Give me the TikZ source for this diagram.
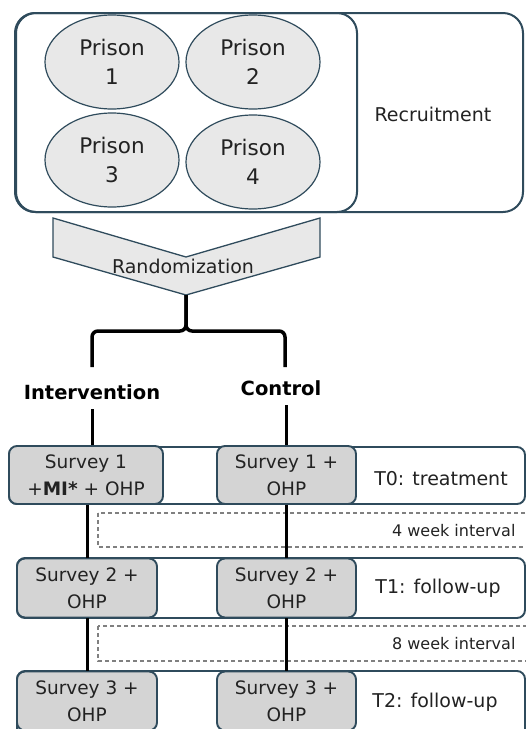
\documentclass[tikz,border=0pt]{standalone}
\usepackage{fontspec}
\setmainfont{DejaVu Sans}
\usetikzlibrary{shapes.geometric}
\definecolor{slate}{HTML}{2F4B5C}
\definecolor{ellgray}{HTML}{E8E8E8}
\definecolor{boxgray}{HTML}{D4D4D4}
\definecolor{inkgray}{HTML}{222222}

\begin{document}
\begin{tikzpicture}[x=1pt,y=-1pt, text=inkgray,
		prison/.style={ellipse, draw=slate, fill=ellgray, line width=1.2pt, minimum width=134pt, minimum height=94pt, inner sep=0pt, align=center, font=\fontsize{21.5}{29}\selectfont},
		survey/.style={rectangle, rounded corners=8pt, draw=slate, fill=boxgray, line width=1.9pt, minimum height=59pt, inner sep=0pt, align=center, font=\fontsize{18.5}{27}\selectfont},
		rowbox/.style={rounded corners=8pt, draw=slate, fill=white, line width=1.9pt},
		gapbox/.style={draw=gray, dash pattern=on 4pt off 3pt, line width=1.6pt},
		arm/.style={font=\bfseries\fontsize{19.5}{23}\selectfont, text=black},
		stage/.style={font=\fontsize{19}{23}\selectfont},
		gaptext/.style={font=\fontsize{16}{19}\selectfont, anchor=east},
		link/.style={line width=3pt, black}]
				\useasboundingbox (0,0) rectangle (526,729);
				% recruitment
				\draw[rowbox, rounded corners=20pt, line width=2pt] (15,13) rectangle (523,212);
				\draw[rowbox, rounded corners=20pt, line width=2pt, fill=none] (16,13) rectangle (357,212);
				\node[prison] (p1) at (112,62) {Prison\\1};
				\node[prison] (p2) at (253,62) {Prison\\2};
				\node[prison] (p3) at (112,160) {Prison\\3};
				\node[prison] (p4) at (253,162) {Prison\\4};
				\node[stage] (recruit) at (433,114) {Recruitment};
				% randomization
				\filldraw[fill=ellgray, draw=slate, line width=1.3pt] (53,218) -- (186,257) -- (320,218) -- (320,257) -- (186,295) -- (53,257) -- cycle;
				\node[stage] (rand) at (183,266) {Randomization};
				\coordinate (tip) at (186,295);
				\node[arm] (intv) at (92,392) {Intervention};
				\node[arm] (ctrl) at (281,388) {Control};
				\coordinate (bl) at (92,367);
				\coordinate (br) at (285,367);
				\draw[link, line width=3.5pt, rounded corners=6pt] (tip) -- ++(0,36) -| (bl);
				\draw[link, line width=3.5pt, rounded corners=6pt] (tip) -- ++(0,36) -| (br);
				% time points
				\draw[rowbox] (9,447) rectangle (525,504);
				\draw[rowbox] (17,558) rectangle (525,618);
				\draw[rowbox] (17,671) rectangle (525,745);
				\draw[gapbox] (98,513) rectangle (540,547);
				\draw[gapbox] (98,626) rectangle (540,661);
				\node[stage] (t0) at (441,479) {T0: treatment};
				\node[stage] (t1) at (438,588) {T1: follow-up};
				\node[stage] (t2) at (435,702) {T2: follow-up};
				\node[gaptext] (w4) at (519,531) {4 week interval};
				\node[gaptext] (w8) at (519,644) {8 week interval};
				\node[survey, minimum width=154pt, minimum height=58pt] (s1i) at (86,475) {Survey 1\\+\textbf{MI*} + OHP};
				\node[survey, minimum width=139pt, minimum height=58pt] (s1c) at (286.5,475) {Survey 1 +\\OHP};
				\node[survey, minimum width=140pt] (s2i) at (87,588) {Survey 2 +\\OHP};
				\node[survey, minimum width=139pt] (s2c) at (286.5,588) {Survey 2 +\\OHP};
				\node[survey, minimum width=140pt] (s3i) at (87,701) {Survey 3 +\\OHP};
				\node[survey, minimum width=139pt] (s3c) at (286.5,701) {Survey 3 +\\OHP};
				\draw[link] ([yshift=-6pt]intv.south) -- (intv.south |- s1i.north);
				\draw[link] ([yshift=-6pt]ctrl.south -| s1c) -- (s1c.north);
				\draw[link] (s1i.south -| s2i) -- (s2i.north);
				\draw[link] (s1c.south) -- (s2c.north);
				\draw[link] (s2i) -- (s3i);
				\draw[link] (s2c) -- (s3c);
				\end{tikzpicture}
\end{document}
